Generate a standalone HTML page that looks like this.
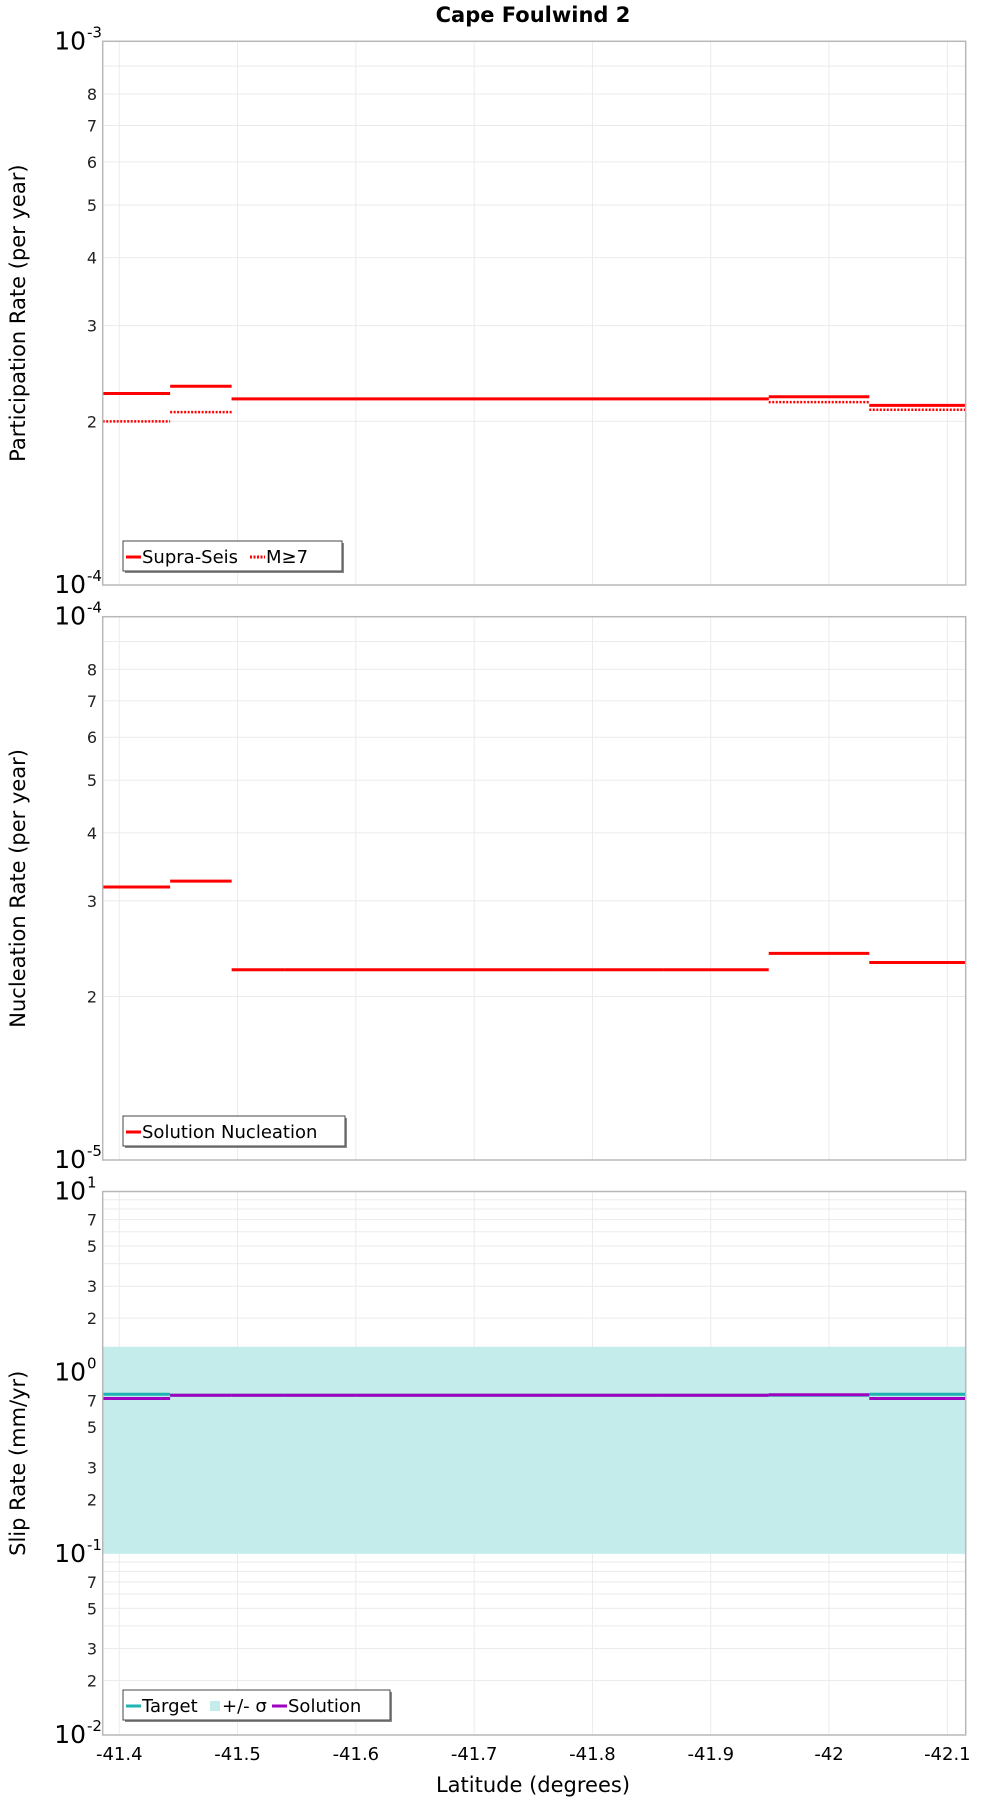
<!DOCTYPE html>
<html><head><meta charset="utf-8"><style>
body{margin:0;background:#fff;}
svg text{font-family:"DejaVu Sans","Liberation Sans",sans-serif;}
</style></head><body>
<svg id="chart" width="1000" height="1800" viewBox="0 0 1000 1800" xmlns="http://www.w3.org/2000/svg">
<text x="533" y="22" text-anchor="middle" font-size="21" font-weight="bold">Cape Foulwind 2</text>
<text x="533" y="1792" text-anchor="middle" font-size="21">Latitude (degrees)</text>
</svg>
<script>
// shared
const latBounds = [-41.386, -41.443, -41.495, -41.54, -41.60, -41.77, -41.86, -41.949, -42.034, -42.1155];
const xTicks = [-41.4, -41.5, -41.6, -41.7, -41.8, -41.9, -42, -42.1];
const xTickLabels = ["-41.4", "-41.5", "-41.6", "-41.7", "-41.8", "-41.9", "-42", "-42.1"];
// panel 1
const supraSeis = [2.25e-4, 2.32e-4, 2.2e-4, 2.2e-4, 2.2e-4, 2.2e-4, 2.2e-4, 2.22e-4, 2.14e-4];
const mGe7 = [2.0e-4, 2.08e-4, 2.2e-4, 2.2e-4, 2.2e-4, 2.2e-4, 2.2e-4, 2.17e-4, 2.1e-4];
// panel 2
const nucleation = [3.18e-5, 3.26e-5, 2.24e-5, 2.24e-5, 2.24e-5, 2.24e-5, 2.24e-5, 2.4e-5, 2.31e-5];
// panel 3
const slipTarget = [0.76, 0.75, 0.75, 0.75, 0.75, 0.75, 0.75, 0.75, 0.76];
const slipSolution = [0.72, 0.75, 0.75, 0.75, 0.75, 0.75, 0.75, 0.755, 0.72];
const sigmaLow = [0.1];
const sigmaHigh = [1.39];

const NS = "http://www.w3.org/2000/svg";
const svg = document.getElementById("chart");
const X0 = 102.7, X1 = 965.7;
const xScale = v => X0 + (v - latBounds[0]) / (latBounds[latBounds.length-1] - latBounds[0]) * (X1 - X0);
function mk(tag, attrs, parent){const e=document.createElementNS(NS,tag);for(const k in attrs)e.setAttribute(k,attrs[k]);(parent||svg).appendChild(e);return e;}

const panels = [
 {name:"participation", top:41.3, bottom:585, lo:-4, hi:-3, labels:[2,3,4,5,6,7,8], ylabel:"Participation Rate (per year)"},
 {name:"nucleation", top:616.7, bottom:1160, lo:-5, hi:-4, labels:[2,3,4,5,6,7,8], ylabel:"Nucleation Rate (per year)"},
 {name:"slip", top:1191.5, bottom:1735, lo:-2, hi:1, labels:[2,3,5,7], ylabel:"Slip Rate (mm/yr)"}
];
panels.forEach(p=>{
  p.y = v => p.bottom - (Math.log10(v) - p.lo)/(p.hi-p.lo)*(p.bottom-p.top);
  const g = mk("g",{});
  
  
  xTicks.forEach(t=>{
    const l=mk("line",{x1:xScale(t),x2:xScale(t),y1:p.top,y2:p.bottom,stroke:"#ebebeb","stroke-width":1},g);
    
    
  });
  for(let d=p.lo; d<=p.hi; d++){
    if(d<p.hi){
      for(let m=2;m<=9;m++){
        const v=m*Math.pow(10,d), yy=p.y(v);
        const l=mk("line",{x1:X0,x2:X1,y1:yy,y2:yy,stroke:"#ebebeb","stroke-width":1},g);
        
        
        if(p.labels.includes(m)){
          const t=mk("text",{x:97,y:yy+6,"text-anchor":"end","font-size":16,fill:"#222"},g);
          t.textContent=m;
          
          
        }
      }
    }
    const yy=p.y(Math.pow(10,d));
    const t=mk("text",{x:86,y:yy+8,"text-anchor":"end","font-size":25,fill:"#000"},g);
    t.textContent="10";
    
    
    const s=mk("text",{x:87,y:yy-4,"font-size":15,fill:"#000"},g);
    s.textContent=String(d);
    
    
  }
  const yl=mk("text",{x:0,y:0,"text-anchor":"middle","font-size":21,transform:`translate(25,${(p.top+p.bottom)/2}) rotate(-90)`},g);
  yl.textContent=p.ylabel;
  
  
});

function steps(p, vals, color, dash, width, name){
  vals.forEach((v,i)=>{
    const yy=p.y(v);
    const l=mk("line",{x1:xScale(latBounds[i]),x2:xScale(latBounds[i+1]),y1:yy,y2:yy,stroke:color,"stroke-width":width});
    if(dash) l.setAttribute("stroke-dasharray",dash);
    
    
  });
}
const [P1,P2,P3] = panels;
const band=mk("rect",{x:X0,width:X1-X0,y:P3.y(sigmaHigh[0]),height:P3.y(sigmaLow[0])-P3.y(sigmaHigh[0]),fill:"#c3ecea"});


steps(P1, mGe7, "#ff0000", "2,1.5", 2.5, "m7-segment");
steps(P1, supraSeis, "#ff0000", null, 3, "supra-seis-segment");
steps(P2, nucleation, "#ff0000", null, 3, "nucleation-segment");
steps(P3, slipTarget, "#1fb3b3", null, 3, "target-segment");
steps(P3, slipSolution, "#a000c0", null, 3, "solution-segment");

panels.forEach(p=>{
  const r=mk("rect",{x:X0,y:p.top,width:X1-X0,height:p.bottom-p.top,fill:"none",stroke:"#b8b8b8","stroke-width":1.5});
  
  
});
xTicks.forEach((t,i)=>{
  const e=mk("text",{x:xScale(t),y:1760,"text-anchor":"middle","font-size":18});
  e.textContent=xTickLabels[i];
  
  
});

function legend(x,y,w,items,name){
  const g=mk("g",{});
  
  
  mk("rect",{x:x+2,y:y+2,width:w,height:30,fill:"#888"},g);
  mk("rect",{x:x,y:y,width:w,height:30,fill:"#fff",stroke:"#444","stroke-width":1},g);
  let cx=x+3;
  items.forEach(it=>{
    if(it.box){mk("rect",{x:cx,y:y+11,width:10,height:10,fill:it.color},g);cx+=12;}
    else{const l=mk("line",{x1:cx,x2:cx+15,y1:y+16,y2:y+16,stroke:it.color,"stroke-width":3},g);if(it.dash)l.setAttribute("stroke-dasharray",it.dash);cx+=16;}
    const t=mk("text",{x:cx,y:y+22,"font-size":18},g);
    t.textContent=it.label;
    
    
    cx+=it.w;
  });
}
legend(123,541,219,[{color:"#f00",label:"Supra-Seis",w:108},{color:"#f00",label:"M≥7",dash:"2,1.5",w:50}],"legend-participation");
legend(123,1116,222,[{color:"#f00",label:"Solution Nucleation",w:200}],"legend-nucleation");
legend(123,1690,267,[{color:"#1fb3b3",label:"Target",w:68},{color:"#c3ecea",label:"+/- σ",box:true,w:50},{color:"#a000c0",label:"Solution",w:90}],"legend-slip");
</script>
</body></html>
